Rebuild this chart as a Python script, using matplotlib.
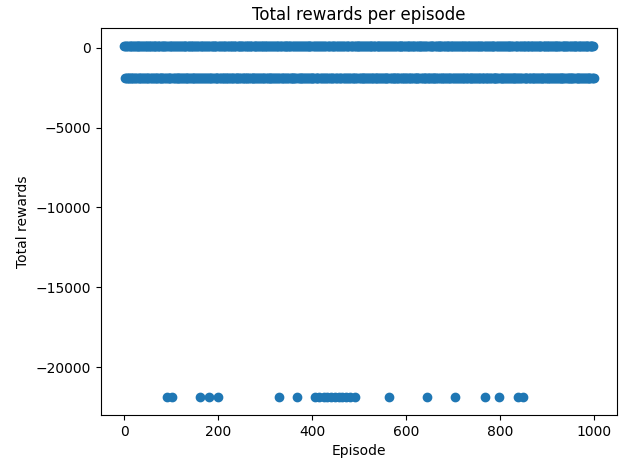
import matplotlib
matplotlib.use("Agg")
import matplotlib.pyplot as plt
import numpy as np

# Outcome code for each episode, 100 episodes per row (spaces only group by 10):
# H = goal reached, L = timed out, X = crashed
episode_codes = [
    "HLHHLLHLHL LHHLHLLHHL HLLHHLHLHH LHLLHHLHLL HHLHLLHLHH LLHHLHHLLH HLHLLHHLHL LHHLHLHLLH HLLHHLHHLL XHLHLLHLHH",
    "LXHLHHLLHL HHLLHLHLHL LHLHHLLHHL HLHLLHLHHL LHHLHLLHLH HLLHLHHLHL LXHHLLHLHL HLHLHHLLHX LHLHLLHHLH HLHHLLHLLH",
    "XLHHLHLLHL HLHLHHLLHL LHHLLHLHLH HLLHHLHLHL LHLHLHHLLH HHLLHLHLHL LHLHHLLHHL HLHLLHLHLH LHHLHLLHHL HLLHLHHLLH",
    "HLHLHHLHLL LHHLLHLHHL HLLHLHHLHL XHLHHLLHLH LHLLHHLHLH HLHHLLHLHL LHLHLHLXHL HLHLHLLHHL LHHLLHHLLH HLHLHHLLHL",
    "LHLHLHXLHL HLHLHXLHLH LHLHXHLLHL HLXHLHHLLH XLHLHLHHXL HLHLHLXHLH LHLHXLHLHL HLXHLHLHLH LXHLHHLLHL XHLHLHLHHL",
    "HLHHLLHLHL LHLHHLHLLH HLHLLHHLHL LHHLHLLHLH HLLHLHHLHL LHLHLHLLHH LHLHXLHLHL HLHHLLHLHL LHLLHHLHLH HLHLHLLHHL",
    "LHLHHLLHLH HLHLHLHHLL LHHLLHLHLH HLHLHHLLHL LHLHXHLLHL HLLHHLHLHL LHLHLLHHLH HLHLHHLLHL LHHLHLLHLH HLHLLHHLHL",
    "HLHXLHLHLH LHLHHLLHHL HLHLLHHLHL LHHLHLHLLH HLLHHLHLHL LHLHLHHLLH HLHLLHLXHL LHHLHLLHLH HLHLHHLLHL LHLHLHLHXL",
    "HLHLHLLHHL LHHLLHLHLH HLHLHHLLHL LHLHLHLHXL HLHLHLHLXH LHLHHLLHLH HLHLLHHLHL LHHLHLLHLH HLLHHLHLHL LHLHLHHLLH",
    "HLHLLHHLHL LHHLHLLHLH HLHLHHLLHL LHLHLLHHLH HLHHLLHLHL LHLLHHLHLH HLHLHLLHHL LHHLLHLHLH HLHLHHLLHL LHLHHLHLHL",
]

# Total reward collected for each outcome
reward_by_code = {"H": 140, "L": -1920, "X": -21900}

codes = "".join("".join(row.split()) for row in episode_codes)
episodes = np.arange(len(codes))
total_rewards = np.array([reward_by_code[c] for c in codes])

W, H = 619, 465
fig = plt.figure(figsize=(W / 100, H / 100), dpi=100)
ax = fig.add_axes([101 / W, 50 / H, 516 / W, 387 / H])

ax.scatter(episodes, total_rewards, color="#1f77b4")
ax.set_title("Total rewards per episode")
ax.set_xlabel("Episode")
ax.set_ylabel("Total rewards")
ax.set_xticks([0, 200, 400, 600, 800, 1000])
ax.set_yticks([0, -5000, -10000, -15000, -20000])

fig.savefig("out.png", dpi=100)
